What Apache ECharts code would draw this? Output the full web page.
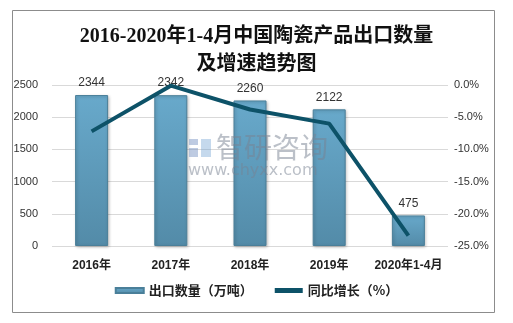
<!DOCTYPE html>
<html><head><meta charset="utf-8">
<script src="https://cdn.jsdelivr.net/npm/echarts@6/dist/echarts.min.js"></script>
<style>html,body{margin:0;padding:0;background:#fff}#c{width:513px;height:323px}</style>
</head><body><div id="c"></div>
<script>
var categories = ['2016年','2017年','2018年','2019年','2020年1-4月'];
var exportVolume = [2344, 2342, 2260, 2122, 475];
var growthRate = [-7.2, -0.1, -3.8, -6.0, -23.4];
var leftTicks = [0, 2500, 500];
var rightTicks = [-25, 0, 5];

var chart = echarts.init(document.getElementById('c'), null, {renderer:'canvas'});
var cjk = "'Noto Sans CJK SC', sans-serif";
var serif = "'Liberation Serif', 'Noto Sans CJK SC', serif";
var num = "'Liberation Sans', 'Noto Sans CJK SC', sans-serif";
chart.setOption({
  animation:false,
  backgroundColor:'#fff',
  title:{
    text:'2016-2020年1-4月中国陶瓷产品出口数量\n及增速趋势图',
    left:'center', top:18,
    textStyle:{fontFamily:serif, fontWeight:'bold', fontSize:20, lineHeight:28, color:'#111'}
  },
  graphic:[
    {type:'rect', shape:{x:12.5,y:10.5,width:482,height:302}, style:{fill:'none',stroke:'#8c8c8c',lineWidth:1}, z:-1},
    {type:'rect', shape:{x:189,y:139,width:9,height:6}, style:{fill:'rgba(110,140,190,0.45)'}, z:10},
    {type:'rect', shape:{x:189,y:148,width:9,height:9}, style:{fill:'rgba(110,140,190,0.45)'}, z:10},
    {type:'rect', shape:{x:201,y:139,width:10,height:18}, style:{fill:'rgba(110,160,210,0.4)'}, z:10},
    {type:'text', left:216, top:133, style:{text:'智研咨询', font:"28px 'Noto Sans CJK SC'", fill:'rgba(120,130,145,0.5)'}, z:10},
    {type:'text', left:188, top:163, style:{text:'www.chyxx.com', font:"16px 'DejaVu Sans'", fill:'rgba(120,130,145,0.5)', letterSpacing:0.8}, z:10}
  ],
  legend:{
    bottom:21, left:'center', itemGap:22, itemWidth:28, itemHeight:5,
    textStyle:{fontFamily:cjk, fontWeight:'bold', fontSize:13, color:'#222'},
    data:[{name:'出口数量（万吨）', icon:'rect'},{name:'同比增长（%）', icon:'rect', itemStyle:{color:'#0d5268'}}]
  },
  grid:{left:52, right:65, top:85, bottom:77},
  xAxis:{
    type:'category', data:categories,
    axisLine:{show:false}, axisTick:{show:false},
    axisLabel:{interval:0, fontFamily:num, fontWeight:'bold', fontSize:12, color:'#222', margin:14}
  },
  yAxis:[
    {type:'value', min:leftTicks[0], max:leftTicks[1], interval:leftTicks[2],
     axisLine:{show:false}, axisTick:{show:false},
     splitLine:{lineStyle:{color:'#d9d9d9'}},
     axisLabel:{fontFamily:num, fontSize:11, color:'#333', margin:14,
       formatter:function(v){return String(v);}}},
    {type:'value', min:rightTicks[0], max:rightTicks[1], interval:rightTicks[2],
     axisLine:{show:false}, axisTick:{show:false}, splitLine:{show:false},
     axisLabel:{fontFamily:num, fontSize:11, color:'#333', margin:6,
       formatter:function(v){return v.toFixed(1)+'%';}}}
  ],
  series:[
    {name:'出口数量（万吨）', type:'bar', data:exportVolume, barWidth:33,
     itemStyle:{
       color:new echarts.graphic.LinearGradient(0,0,0,1,[{offset:0,color:'#68a9cb'},{offset:1,color:'#538ba8'}]),
       borderColor:'#4a7f99', borderWidth:1,
       shadowColor:'rgba(0,0,0,0.25)', shadowBlur:3, shadowOffsetX:1, shadowOffsetY:1
     },
     label:{show:true, position:'top', distance:6, fontFamily:num, fontSize:12, color:'#333'}},
    {name:'同比增长（%）', type:'line', yAxisIndex:1, data:growthRate,
     symbol:'none', lineStyle:{color:'#0d5268', width:4}, itemStyle:{color:'#0d5268'}, z:5}
  ]
});
</script></body></html>
